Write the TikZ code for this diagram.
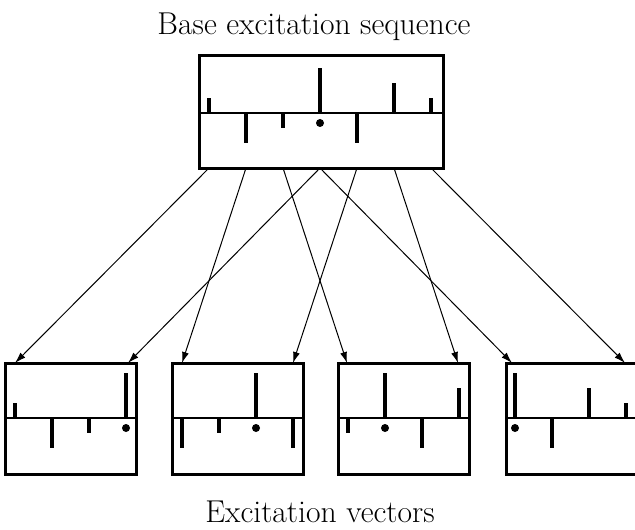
\documentclass[tikz,border=0pt]{standalone}
\usetikzlibrary{arrows.meta}
\begin{document}
\begin{tikzpicture}[x=0.5pt,y=-0.5pt,
  boxline/.style={draw, line width=1.5pt, inner sep=0pt, outer sep=0pt},
  topbox/.style={boxline, minimum width=122pt, minimum height=56pt},
  vecbox/.style={boxline, minimum width=65.5pt, minimum height=55.5pt},
  axis/.style={line width=1.3pt},
  bar/.style={line width=2.3pt},
  arr/.style={line width=0.5pt, -{Latex[length=5.5pt,width=3.5pt]}},
  lbl/.style={font=\fontsize{15.8pt}{19pt}\selectfont, anchor=base, inner sep=0pt}
]
\useasboundingbox (0,0) rectangle (635,529);

% labels
\node[lbl] (title) at (314,35) {Base excitation sequence};
\node[lbl] (caption) at (320,522) {Excitation vectors};

% top box
\node[topbox] (base) at (321,112) {};
\draw[axis] (199,113) -- (443,113);
\foreach \v [count=\k from 0] in {1,-2,-1,3,-2,2,1}
  \draw[bar] ({209+37*\k},113) -- ++(0,{-15*\v});
\fill (320,123) circle[radius=2pt];

% bottom boxes
\node[vecbox] (v1) at (70.5,418.5) {};
\node[vecbox] (v2) at (237.5,418.5) {};
\node[vecbox] (v3) at (403.5,418.5) {};
\node[vecbox] (v4) at (572,418.5) {};

\foreach \x/\vals/\dp in {5/{1,-2,-1,3}/3, 172/{-2,-1,3,-2}/2, 338/{-1,3,-2,2}/1, 505/{3,-2,2,1}/0}{
  \draw[axis] (\x,418) -- ({\x+131},418);
  \foreach \v [count=\i from 0] in \vals
    \draw[bar] ({\x+10+37*\i},418) -- ++(0,{-15*\v});
  \fill ({\x+10+37*\dp},428) circle[radius=2pt];
}

% arrow end points
\coordinate (s0) at (209,168);
\coordinate (s1) at (246,168);
\coordinate (s2) at (283,168);
\coordinate (s3) at (320,168);
\coordinate (s4) at (357,168);
\coordinate (s5) at (394,168);
\coordinate (s6) at (431,168);
\coordinate (e1l) at (15,363);
\coordinate (e1r) at (128,363);
\coordinate (e2l) at (182,363);
\coordinate (e2r) at (293,363);
\coordinate (e3l) at (347,363);
\coordinate (e3r) at (458,363);
\coordinate (e4l) at (512,363);
\coordinate (e4r) at (625,363);

\draw[arr] (s0) -- (e1l);
\draw[arr] (s1) -- (e2l);
\draw[arr] (s2) -- (e3l);
\draw[arr] (s3) -- (e1r);
\draw[arr] (s3) -- (e4l);
\draw[arr] (s4) -- (e2r);
\draw[arr] (s5) -- (e3r);
\draw[arr] (s6) -- (e4r);
\end{tikzpicture}
\end{document}
